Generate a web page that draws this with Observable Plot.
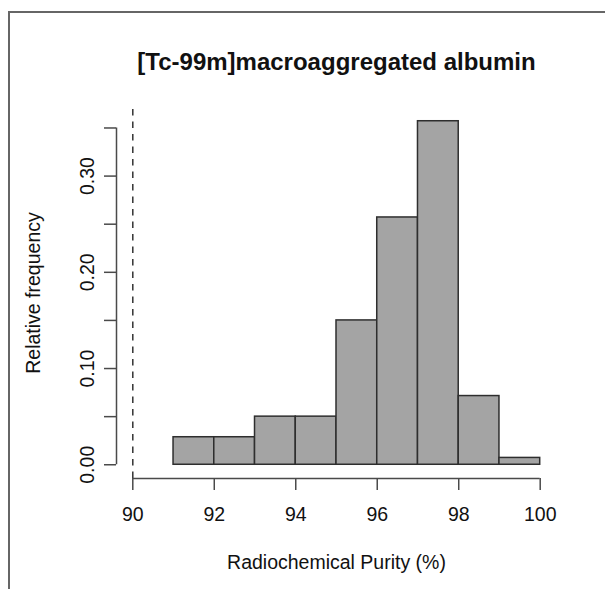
<!DOCTYPE html>
<html>
<head>
<meta charset="utf-8">
<script src="https://cdn.jsdelivr.net/npm/d3@7"></script>
<script src="https://cdn.jsdelivr.net/npm/@observablehq/plot@0.6"></script>
<style>
  html, body { margin: 0; padding: 0; background: #fff; }
  #wrap { position: relative; width: 605px; height: 589px; overflow: hidden; }
  #border { position: absolute; left: 8px; top: 11px; width: 700px; height: 700px;
            border-top: 2px solid #666; border-left: 2px solid #666; pointer-events: none; }
  svg { font-family: "Liberation Sans", Arial, Helvetica, sans-serif; }
</style>
</head>
<body>
<div id="wrap"><div id="border"></div></div>
<script>
// Histogram bins (Radiochemical Purity, %) and relative frequencies
const binStart = [91, 92, 93, 94, 95, 96, 97, 98, 99];
const binEnd   = [92, 93, 94, 95, 96, 97, 98, 99, 100];
const relFreq  = [0.0286, 0.0286, 0.05, 0.05, 0.15, 0.257, 0.357, 0.0714, 0.0071];
const xTicks = [90, 92, 94, 96, 98, 100];
const yTicks = [0, 0.05, 0.10, 0.15, 0.20, 0.25, 0.30, 0.35];
const yLabelVals = [0, 0.10, 0.20, 0.30];
const yLabelText = ["0.00", "0.10", "0.20", "0.30"];
const refLine = [90];
const title = "[Tc-99m]macroaggregated albumin";
const xLabel = "Radiochemical Purity (%)";
const yLabel = "Relative frequency";

const bins = binStart.map((s, i) => ({x1: s, x2: binEnd[i], y: relFreq[i]}));

// R-style 4% axis padding
const xMin = xTicks[0], xMax = xTicks[xTicks.length - 1];
const xPad = 0.04 * (xMax - xMin);
const yMax = d3.max(relFreq);
const yPad = 0.04 * yMax;
const xDomain = [xMin - xPad, xMax + xPad];
const yDomain = [-yPad, yMax + yPad];

const axisColor = "#4a4a4a";

const chart = Plot.plot({
  width: 605,
  height: 589,
  marginLeft: 116,
  marginRight: 49,
  marginTop: 107,
  marginBottom: 111,
  x: {domain: xDomain, axis: null},
  y: {domain: yDomain, axis: null},
  style: {fontFamily: '"Liberation Sans", Arial, Helvetica, sans-serif', background: "transparent"},
  marks: [
    Plot.rect(bins, {x1: "x1", x2: "x2", y1: 0, y2: "y", fill: "#a4a4a4", stroke: "#2e2e2e", strokeWidth: 1.5}),
    Plot.ruleX(refLine, {y1: yDomain[0], y2: yDomain[1], stroke: "#333", strokeWidth: 1.5, strokeDasharray: "6.5,6"}),
    // x axis line and ticks
    Plot.ruleY([yDomain[0]], {x1: xTicks[0], x2: xTicks[xTicks.length - 1], stroke: axisColor, strokeWidth: 1.5}),
    Plot.axisX({ticks: xTicks, anchor: "bottom", tickSize: 12, tickPadding: 17, fontSize: 19.5,
                tickFormat: d => String(d), stroke: axisColor, strokeWidth: 1.5, fill: "#111", label: null}),
    // y axis line and ticks
    Plot.ruleX([xDomain[0]], {y1: yTicks[0], y2: yTicks[yTicks.length - 1], stroke: axisColor, strokeWidth: 1.5}),
    Plot.axisY({ticks: yTicks, anchor: "left", tickSize: 12, stroke: axisColor, strokeWidth: 1.5, fill: "none", label: null}),
    Plot.text(yLabelVals, {y: d => d, text: (d, i) => yLabelText[i], frameAnchor: "left", dx: -29,
                           rotate: -90, fontSize: 19.5, fill: "#111", textAnchor: "middle", lineAnchor: "middle"}),
    // titles
    Plot.text([title], {frameAnchor: "top", dy: -45, fontSize: 24, fontWeight: "bold", fill: "#111",
                        textAnchor: "middle", lineAnchor: "middle"}),
    Plot.text([xLabel], {frameAnchor: "bottom", dy: 84, fontSize: 19.5, fill: "#111",
                         textAnchor: "middle", lineAnchor: "middle"}),
    Plot.text([yLabel], {frameAnchor: "left", dx: -83, rotate: -90, fontSize: 19.5, fill: "#111",
                         textAnchor: "middle", lineAnchor: "middle"})
  ]
});
document.getElementById("wrap").prepend(chart);
</script>
</body>
</html>
